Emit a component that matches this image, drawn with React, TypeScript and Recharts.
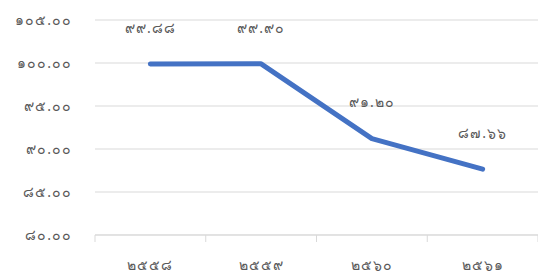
import React from 'react'
import { LineChart, Line, XAxis, YAxis, CartesianGrid, LabelList } from 'recharts'

const years = ['๒๕๕๘', '๒๕๕๙', '๒๕๖๐', '๒๕๖๑']
const values = [99.88, 99.9, 91.2, 87.66]
const valueLabels = ['๙๙.๘๘', '๙๙.๙๐', '๙๑.๒๐', '๘๗.๖๖']
const yTicks = [80, 85, 90, 95, 100, 105]
const yTickLabels = ['๘๐.๐๐', '๘๕.๐๐', '๙๐.๐๐', '๙๕.๐๐', '๑๐๐.๐๐', '๑๐๕.๐๐']

const data = years.map((y, i) => ({ pos: i + 0.5, year: y, value: values[i], label: valueLabels[i] }))
const xTicks = [0, 0.5, 1, 1.5, 2, 2.5, 3, 3.5, 4]

const FONT = '"Noto Sans", sans-serif'
const TEXT = '#595959'
const FS = 14
const LS = 1

const XTick = (props: any) => {
  const { x, y, payload } = props
  const v = payload.value
  if (Number.isInteger(v)) {
    return <line x1={x} x2={x} y1={y - 8} y2={y - 1} stroke="#d9d9d9" strokeWidth={1} />
  }
  const idx = Math.floor(v)
  return (
    <text x={x} y={y + 23} textAnchor="middle" dominantBaseline="middle" fill={TEXT} fontSize={FS} letterSpacing={LS} fontFamily={FONT}>
      {years[idx]}
    </text>
  )
}

const ValueLabel = (props: any) => {
  const { x, y, index } = props
  return (
    <text x={x} y={y - 35} textAnchor="middle" dominantBaseline="middle" fill={TEXT} fontSize={FS} letterSpacing={LS} fontFamily={FONT}>
      {valueLabels[index]}
    </text>
  )
}

export default function App() {
  return (
    <div style={{ position: 'absolute', left: 0, top: 0, background: '#fff' }}>
      <LineChart width={538} height={273} data={data} margin={{ top: 20, right: 0, left: 0, bottom: 0 }}>
        <CartesianGrid stroke="#d9d9d9" vertical={false} />
        <XAxis
          dataKey="pos"
          type="number"
          domain={[0, 4]}
          ticks={xTicks}
          interval={0}
          height={38}
          axisLine={{ stroke: '#d9d9d9' }}
          tickLine={false}
          tick={<XTick />}
        />
        <YAxis
          domain={[80, 105]}
          ticks={yTicks}
          interval={0}
          width={95}
          axisLine={false}
          tickLine={false}
          tickMargin={17}
          tick={{ fill: TEXT, fontSize: FS, fontFamily: FONT, letterSpacing: LS }}
          tickFormatter={(v: number) => yTickLabels[yTicks.indexOf(v)]}
        />
        <Line
          dataKey="value"
          stroke="#4472C4"
          strokeWidth={5}
          strokeLinecap="round"
          strokeLinejoin="round"
          dot={false}
          isAnimationActive={false}
        >
          <LabelList dataKey="label" content={<ValueLabel />} />
        </Line>
      </LineChart>
    </div>
  )
}
